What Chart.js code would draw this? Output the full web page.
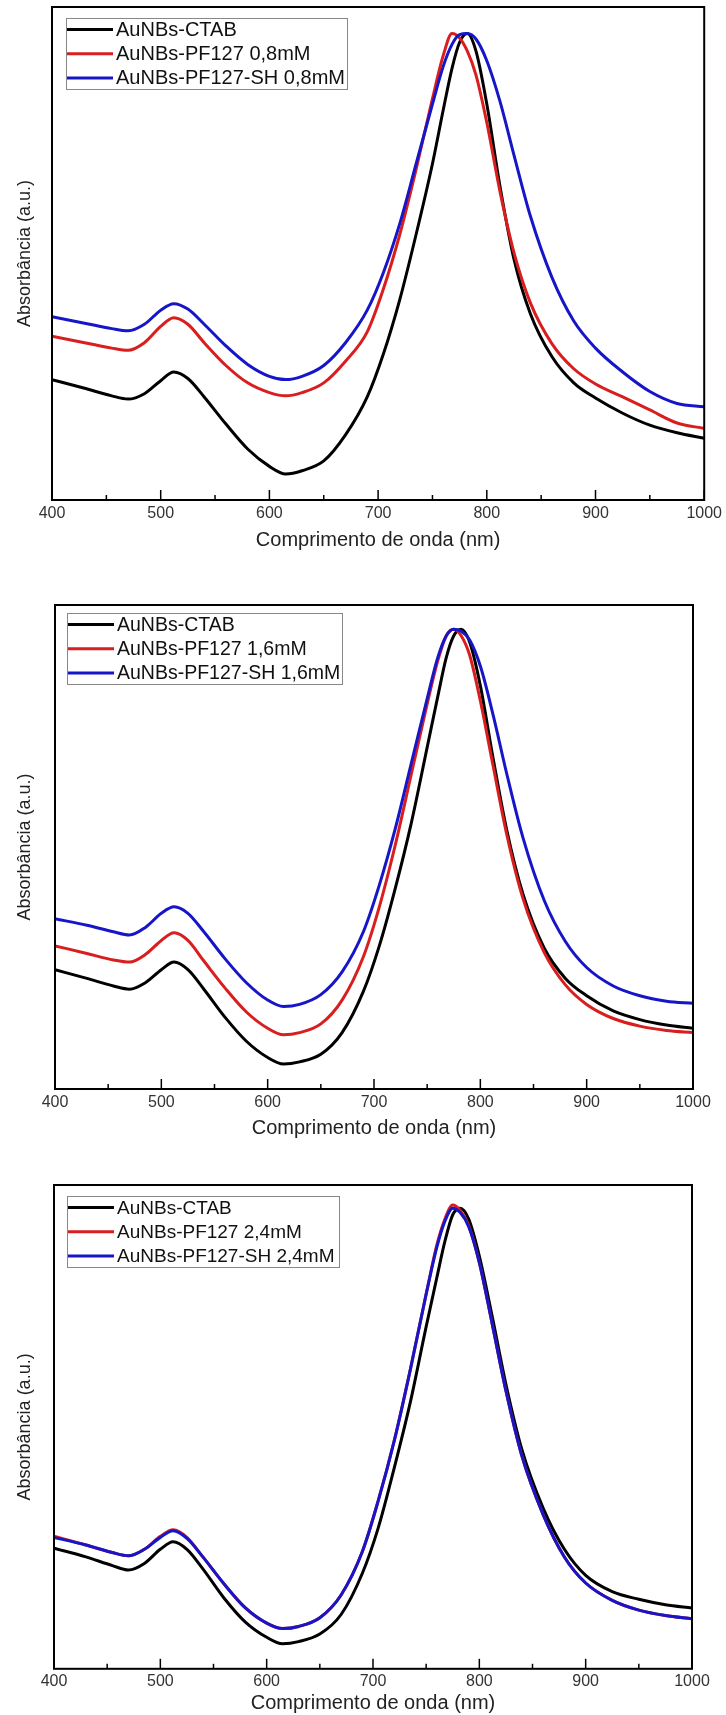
<!DOCTYPE html>
<html>
<head>
<meta charset="utf-8">
<script src="https://cdn.jsdelivr.net/npm/chart.js"></script>
<style>
  body { margin: 0; background: #fff; width: 726px; height: 1715px; overflow: hidden; position: relative; }
  canvas { position: absolute; left: 0; }
</style>
</head>
<body>
<canvas id="c1" width="726" height="560" style="top:0px"></canvas>
<canvas id="c2" width="726" height="585" style="top:560px"></canvas>
<canvas id="c3" width="726" height="570" style="top:1145px"></canvas>
<script>
// wavelength grid (nm) shared by all spectra
const wavelength = [400, 430, 455, 470, 485, 500, 512, 525, 540, 560, 580, 600, 615, 630, 650, 670, 690, 705, 720, 735,
  750, 760, 768, 775, 782, 790, 800, 812, 825, 840, 860, 880, 900, 925, 950, 975, 1000];

const tickLabels = [400, 500, 600, 700, 800, 900, 1000];
const minorTicks = [450, 550, 650, 750, 850, 950];

// panel 1 - 0,8 mM
const labels08 = ['AuNBs-CTAB', 'AuNBs-PF127 0,8mM', 'AuNBs-PF127-SH 0,8mM'];
const ctab08 = [1.11, 1.03, 0.96, 0.93, 0.98, 1.10, 1.18, 1.12, 0.95, 0.70, 0.47, 0.31, 0.24, 0.27, 0.36, 0.60, 0.95, 1.35, 1.85, 2.45,
  3.10, 3.60, 3.98, 4.22, 4.30, 4.14, 3.65, 2.90, 2.22, 1.72, 1.32, 1.08, 0.94, 0.80, 0.69, 0.62, 0.57];
const pf08 = [1.51, 1.45, 1.40, 1.38, 1.45, 1.60, 1.68, 1.62, 1.45, 1.24, 1.08, 0.99, 0.96, 0.99, 1.08, 1.28, 1.55, 1.95, 2.45, 3.05,
  3.70, 4.10, 4.30, 4.26, 4.14, 3.92, 3.48, 2.85, 2.28, 1.82, 1.44, 1.21, 1.07, 0.95, 0.83, 0.71, 0.66];
const pfsh08 = [1.69, 1.63, 1.58, 1.56, 1.62, 1.75, 1.81, 1.76, 1.62, 1.42, 1.25, 1.14, 1.11, 1.14, 1.24, 1.45, 1.75, 2.10, 2.55, 3.10,
  3.65, 4.00, 4.20, 4.29, 4.30, 4.25, 4.05, 3.68, 3.18, 2.62, 2.05, 1.65, 1.40, 1.18, 1.00, 0.89, 0.86];

// panel 2 - 1,6 mM
const labels16 = ['AuNBs-CTAB', 'AuNBs-PF127 1,6mM', 'AuNBs-PF127-SH 1,6mM'];
const ctab16 = [1.10, 1.02, 0.95, 0.92, 0.98, 1.10, 1.17, 1.10, 0.92, 0.66, 0.44, 0.29, 0.23, 0.25, 0.32, 0.52, 0.90, 1.32, 1.85, 2.45,
  3.15, 3.62, 3.98, 4.18, 4.24, 4.12, 3.72, 3.05, 2.38, 1.80, 1.30, 1.02, 0.86, 0.72, 0.64, 0.59, 0.56];
const pf16 = [1.32, 1.25, 1.19, 1.17, 1.24, 1.37, 1.44, 1.37, 1.18, 0.93, 0.71, 0.56, 0.50, 0.52, 0.60, 0.82, 1.22, 1.68, 2.25, 2.90,
  3.55, 3.95, 4.18, 4.24, 4.18, 4.00, 3.58, 2.98, 2.34, 1.76, 1.26, 0.96, 0.78, 0.65, 0.58, 0.54, 0.52];
const pfsh16 = [1.57, 1.51, 1.45, 1.42, 1.49, 1.62, 1.68, 1.62, 1.45, 1.20, 0.98, 0.82, 0.76, 0.78, 0.87, 1.08, 1.45, 1.88, 2.40, 3.00,
  3.60, 3.98, 4.18, 4.24, 4.22, 4.14, 3.90, 3.45, 2.90, 2.32, 1.74, 1.36, 1.12, 0.95, 0.86, 0.81, 0.79];

// panel 3 - 2,4 mM
const labels24 = ['AuNBs-CTAB', 'AuNBs-PF127 2,4mM', 'AuNBs-PF127-SH 2,4mM'];
const ctab24 = [1.11, 1.03, 0.95, 0.91, 0.97, 1.10, 1.17, 1.10, 0.92, 0.65, 0.43, 0.29, 0.23, 0.25, 0.32, 0.50, 0.88, 1.30, 1.85, 2.45,
  3.15, 3.60, 3.95, 4.18, 4.24, 4.14, 3.80, 3.25, 2.62, 2.02, 1.48, 1.10, 0.86, 0.71, 0.64, 0.59, 0.56];
const pf24 = [1.22, 1.14, 1.07, 1.04, 1.10, 1.22, 1.28, 1.21, 1.03, 0.78, 0.56, 0.42, 0.37, 0.39, 0.47, 0.68, 1.08, 1.55, 2.10, 2.75,
  3.45, 3.90, 4.15, 4.27, 4.22, 4.08, 3.74, 3.18, 2.56, 1.96, 1.42, 1.03, 0.79, 0.63, 0.54, 0.49, 0.46];
const pfsh24 = [1.21, 1.14, 1.07, 1.04, 1.10, 1.21, 1.27, 1.20, 1.03, 0.78, 0.56, 0.42, 0.37, 0.39, 0.47, 0.68, 1.08, 1.55, 2.10, 2.75,
  3.45, 3.88, 4.13, 4.24, 4.20, 4.07, 3.74, 3.18, 2.56, 1.96, 1.42, 1.03, 0.79, 0.63, 0.54, 0.49, 0.46];

const colors = ['#000000', '#d81e1e', '#1616c8'];

Chart.defaults.font.family = '"Liberation Sans", Arial, sans-serif';

// box around the plot, inward ticks and the boxed legend
const framePlugin = {
  id: 'frame',
  afterDatasetsDraw(chart, args, opts) {
    const { ctx, chartArea: a } = chart;
    const x = chart.scales.x;
    ctx.save();
    ctx.strokeStyle = '#000';
    ctx.lineWidth = 1.5;
    tickLabels.forEach(v => {
      const px = x.getPixelForValue(v);
      ctx.beginPath(); ctx.moveTo(px, a.bottom); ctx.lineTo(px, a.bottom - 10); ctx.stroke();
    });
    minorTicks.forEach(v => {
      const px = x.getPixelForValue(v);
      ctx.beginPath(); ctx.moveTo(px, a.bottom); ctx.lineTo(px, a.bottom - 5); ctx.stroke();
    });
    ctx.lineWidth = 2;
    ctx.strokeRect(a.left, a.top, a.right - a.left, a.bottom - a.top);

    const bx = a.left + opts.dx, by = a.top + opts.dy;
    ctx.fillStyle = '#fff';
    ctx.fillRect(bx, by, opts.w, opts.h);
    ctx.strokeStyle = '#888';
    ctx.lineWidth = 1;
    ctx.strokeRect(bx + 0.5, by + 0.5, opts.w, opts.h);
    ctx.font = opts.size + 'px "Liberation Sans", Arial, sans-serif';
    ctx.textBaseline = 'middle';
    chart.data.datasets.forEach((ds, i) => {
      const cy = by + 11.5 + i * 24.2;
      ctx.strokeStyle = ds.borderColor;
      ctx.lineWidth = 3;
      ctx.beginPath(); ctx.moveTo(bx + 1, cy); ctx.lineTo(bx + 47, cy); ctx.stroke();
      ctx.fillStyle = '#111';
      ctx.fillText(ds.label, bx + 50, cy + 1);
    });
    ctx.restore();
  }
};

function makeChart(id, labels, series, yMax, pad, tickPad, titlePad, yPad, legend) {
  new Chart(document.getElementById(id), {
    type: 'line',
    data: {
      datasets: series.map((s, i) => ({
        label: labels[i],
        data: wavelength.map((w, k) => ({ x: w, y: s[k] })),
        borderColor: colors[i],
        borderWidth: 3,
        pointRadius: 0,
        cubicInterpolationMode: 'monotone',
        order: 2 - i
      }))
    },
    options: {
      responsive: false,
      animation: false,
      layout: { padding: pad },
      plugins: {
        legend: { display: false },
        tooltip: { enabled: false },
        frame: legend
      },
      scales: {
        x: {
          type: 'linear',
          min: 400,
          max: 1000,
          grid: { display: false, drawTicks: false },
          border: { display: false },
          ticks: {
            stepSize: 100,
            padding: tickPad,
            color: '#333',
            font: { size: 16 },
            maxRotation: 0,
            callback: v => String(v)
          },
          title: {
            display: true,
            text: 'Comprimento de onda (nm)',
            color: '#222',
            font: { size: 20 },
            padding: { top: titlePad, bottom: 0 }
          }
        },
        y: {
          min: 0,
          max: yMax,
          grid: { display: false, drawTicks: false },
          border: { display: false },
          ticks: { display: false },
          title: {
            display: true,
            text: 'Absorbância (a.u.)',
            color: '#222',
            font: { size: 18 },
            padding: { top: 10.2, bottom: yPad }
          }
        }
      }
    },
    plugins: [framePlugin]
  });
}

makeChart('c1', labels08, [ctab08, pf08, pfsh08], 4.545,
  { left: 4, right: 21, top: 7, bottom: 8 }, 4, 0.8, 16.2, { dx: 14, dy: 11, w: 281, h: 71, size: 20 });
makeChart('c2', labels16, [ctab16, pf16, pfsh16], 4.463,
  { left: 4, right: 33, top: 45, bottom: 4.8 }, 4, 0, 19.2, { dx: 12, dy: 8, w: 275, h: 71, size: 19.5 });
makeChart('c3', labels24, [ctab24, pf24, pfsh24], 4.454,
  { left: 4, right: 34, top: 40, bottom: 0 }, 3, -3, 18.2, { dx: 13, dy: 11, w: 272, h: 71, size: 19 });
</script>
</body>
</html>
